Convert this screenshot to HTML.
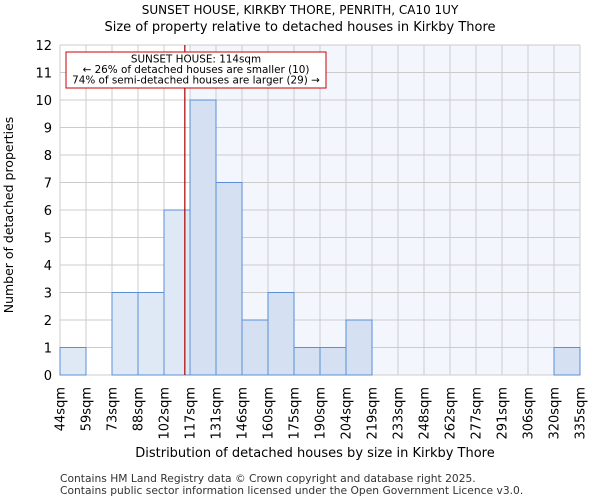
<!DOCTYPE html>
<html><head><meta charset="utf-8"><style>
body{margin:0;background:#fff;font-family:"DejaVu Sans","Liberation Sans",sans-serif;}
</style></head><body>
<svg id="c" width="600" height="500" xmlns="http://www.w3.org/2000/svg" font-family="DejaVu Sans, Liberation Sans, sans-serif">
<text x="300" y="14" text-anchor="middle" font-size="12">SUNSET HOUSE, KIRKBY THORE, PENRITH, CA10 1UY</text>
<text x="300" y="31" text-anchor="middle" font-size="13">Size of property relative to detached houses in Kirkby Thore</text>
<g id="plot"></g>
<text x="315" y="457" text-anchor="middle" font-size="13">Distribution of detached houses by size in Kirkby Thore</text>
<text transform="translate(13,215) rotate(-90)" text-anchor="middle" font-size="12.5">Number of detached properties</text>
<text x="60" y="482" font-size="10.7" fill="#333">Contains HM Land Registry data © Crown copyright and database right 2025.</text>
<text x="60" y="494" font-size="10.7" fill="#333">Contains public sector information licensed under the Open Government Licence v3.0.</text>
</svg>
<script>
const categories=["44sqm","59sqm","73sqm","88sqm","102sqm","117sqm","131sqm","146sqm","160sqm","175sqm","190sqm","204sqm","219sqm","233sqm","248sqm","262sqm","277sqm","291sqm","306sqm","320sqm","335sqm"];
const counts=[1,0,3,3,6,10,7,2,3,1,1,2,0,0,0,0,0,0,0,1];
const yTicks=[0,1,2,3,4,5,6,7,8,9,10,11,12];
const propertySize=114;
const binStart=44, binStep=14.58;
const L=60,R=580,T=45,B=375,yMax=12;
const n=counts.length, bw=(R-L)/n;
const x=i=>L+i*bw;
const y=v=>B-(v/yMax)*(B-T);
const xv=v=>L+(v-binStart)/binStep*bw;
const g=document.getElementById('plot');
const NS="http://www.w3.org/2000/svg";
function mk(t,a){const e=document.createElementNS(NS,t);for(const k in a)e.setAttribute(k,a[k]);g.appendChild(e);return e;}
const px=xv(propertySize);
const splitBin=Math.ceil((propertySize-binStart)/binStep);
let e=mk('rect',{x:x(splitBin),y:T,width:R-x(splitBin),height:B-T,fill:'#f3f6fd'});


for(const t of yTicks){e=mk('line',{x1:L,x2:R,y1:y(t),y2:y(t),stroke:'#ccc','stroke-width':1});


e=mk('text',{x:L-8,y:y(t)+5,'text-anchor':'end','font-size':13});e.textContent=t;

}
for(let i=0;i<=n;i++){e=mk('line',{x1:x(i),x2:x(i),y1:T,y2:B,stroke:'#ccc','stroke-width':1});

}
counts.forEach((c,i)=>{if(!c)return;
e=mk('rect',{x:x(i),y:y(c),width:bw,height:B-y(c),fill:i<splitBin?'#dfe8f5':'#d5e1f3',stroke:'#5b8fd6','stroke-width':1});

});
categories.forEach((c,i)=>{e=mk('text',{transform:`translate(${x(i)+4.5},${B+12}) rotate(-90)`,'text-anchor':'end','font-size':13});e.textContent=c;

});
e=mk('line',{x1:px,x2:px,y1:T,y2:B,stroke:'#a00','stroke-width':1.2});


e=mk('rect',{x:66,y:52,width:260,height:36,fill:'#fff',stroke:'#c00','stroke-width':1});


const lines=["SUNSET HOUSE: 114sqm","← 26% of detached houses are smaller (10)","74% of semi-detached houses are larger (29) →"];
lines.forEach((s,i)=>{e=mk('text',{x:196,y:62.5+i*10.5,'text-anchor':'middle','font-size':10.4});e.textContent=s;

});
</script>
</body></html>
